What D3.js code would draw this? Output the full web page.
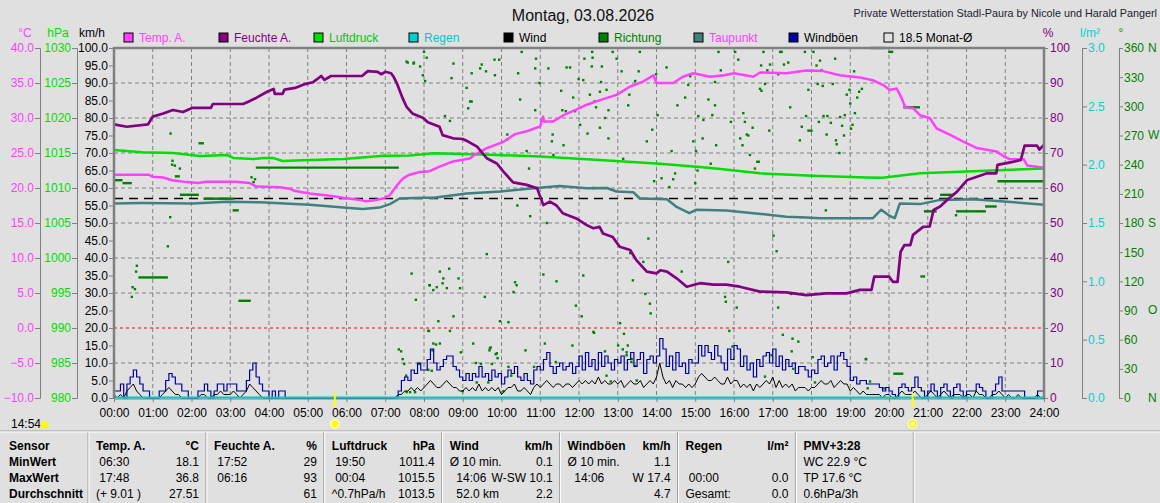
<!DOCTYPE html>
<html>
<head>
<meta charset="utf-8">
<script src="https://cdn.jsdelivr.net/npm/d3@7"></script>
<style>
  body { margin: 0; background: #e0e0e0; }
  svg { display: block; font-family: "Liberation Sans", Arial, sans-serif; }
  .pre { white-space: pre; }
</style>
</head>
<body>
<svg id="chart" width="1160" height="503"></svg>
<script>
// ---- data ----
const tempPoints = [[0,21.9],[0.9,21.9],[1.0,21.6],[1.27,21.5],[1.5,21.1],[1.8,20.9],[2.17,20.7],[2.38,20.9],[3.15,20.9],[3.5,20.7],[3.68,20.2],[4.28,20.1],[4.53,19.9],[4.65,19.6],[5.05,19.2],[5.57,18.9],[5.92,18.6],[6.35,18.3],[6.5,18.1],[6.68,18.2],[6.95,18.5],[7.12,19.0],[7.28,20.2],[7.38,20.9],[7.47,21.4],[7.63,21.9],[7.9,22.3],[8.15,22.4],[8.4,23.05],[8.75,23.8],[9.18,24.2],[9.3,24.7],[9.62,25.7],[10.05,26.6],[10.35,27.7],[10.65,28.1],[11.0,28.8],[11.07,30.2],[11.1,29.5],[11.33,29.5],[11.6,30.4],[11.93,31.2],[12.2,31.9],[12.62,32.7],[12.97,33.3],[13.32,34.5],[13.65,35.2],[13.92,36.1],[14.0,35.0],[14.43,35.0],[14.68,35.9],[14.95,36.4],[15.38,35.9],[15.75,36.1],[16.0,36.4],[16.5,35.9],[16.67,36.5],[17.35,36.4],[17.87,36.8],[18.3,36.7],[18.73,36.1],[19.25,35.8],[19.58,35.4],[19.85,34.7],[20.02,34.0],[20.2,34.2],[20.33,32.8],[20.42,31.5],[20.62,31.4],[20.8,30.4],[21.05,30.0],[21.23,28.5],[21.58,27.6],[21.93,26.6],[22.27,25.7],[22.78,25.2],[22.97,24.5],[23.13,24.1],[23.48,24.1],[23.57,23.2],[24.0,22.9]];

const humPoints = [[0,78.2],[0.33,77.5],[0.88,78.2],[1.0,80.4],[1.27,81.3],[1.52,82.3],[1.78,81.7],[2.03,82.9],[2.5,82.9],[2.55,84],[3.33,84],[3.45,84.6],[3.68,85.8],[3.95,87.5],[4.12,88.3],[4.15,86.9],[4.35,86.9],[4.4,88.1],[4.67,88.6],[4.9,89.6],[5.13,90.2],[5.35,92],[5.43,90.9],[5.6,92],[6.4,92],[6.55,93.4],[6.8,93.2],[6.9,92.5],[7.0,93.2],[7.15,92.8],[7.22,91.7],[7.3,89.9],[7.45,85.6],[7.55,83.2],[7.7,81.3],[7.97,80.1],[8.1,78.8],[8.4,77.5],[8.48,75.1],[8.75,74.2],[9.0,74.0],[9.15,73.2],[9.37,71.8],[9.62,68.5],[9.88,67],[10.05,64.7],[10.3,61.6],[10.65,60.9],[10.92,59.9],[11.08,55.1],[11.25,56.1],[11.42,55],[11.58,52.8],[11.93,51.3],[12.2,49.4],[12.37,48.5],[12.53,48.9],[12.62,47],[12.87,46],[13.05,43.2],[13.32,42.3],[13.48,39.4],[13.75,36.1],[14.0,35.6],[14.1,36.5],[14.27,36.1],[14.52,34.2],[14.78,31.8],[15.12,32.8],[15.47,32.4],[15.8,32.4],[16.15,31.8],[16.67,30.4],[17.35,30.2],[17.87,29.4],[18.38,29.9],[18.9,29.9],[19.25,30.9],[19.55,30.9],[19.62,34.7],[20.0,34.7],[20.1,33.2],[20.22,33.2],[20.3,41.8],[20.4,43.7],[20.55,43.7],[20.62,46.6],[20.88,48.9],[21.05,49],[21.15,53.7],[21.32,54.7],[21.5,56.6],[21.75,58.9],[22.02,62.3],[22.27,63.2],[22.53,64.2],[22.77,64.2],[22.8,66.6],[23.13,67.3],[23.4,68],[23.5,72.1],[23.82,72.1],[23.88,71],[24.0,72.3]];

const pressPoints = [[0,1015.43],[0.72,1015.1],[1.52,1015.0],[2.22,1014.57],[2.92,1014.7],[3.08,1014.3],[3.6,1014.14],[3.85,1014.3],[4.1,1014.3],[4.35,1013.86],[4.88,1013.95],[5.92,1014.14],[6.95,1014.6],[7.63,1014.65],[8.25,1014.95],[9.53,1014.8],[11.0,1014.5],[12.53,1014.0],[14.0,1013.5],[15.12,1013.0],[15.65,1012.7],[16.67,1012.1],[18.03,1011.76],[19.42,1011.5],[19.83,1011.45],[20.8,1012.1],[22.18,1012.4],[24.0,1012.8]];

const dewPoints = [[0,17.8],[0.72,17.85],[2.03,17.8],[2.92,18.05],[3.77,17.95],[5.05,17.6],[5.92,17.2],[6.42,17.0],[6.85,17.2],[7.12,17.7],[7.37,18.5],[7.97,18.6],[8.25,18.6],[9.1,19.2],[9.97,19.5],[10.82,19.95],[11.5,20.3],[12.2,19.95],[12.72,20.0],[12.97,19.5],[13.4,19.4],[13.57,18.5],[14.27,18.4],[14.52,17.3],[14.85,16.4],[15.03,16.9],[15.8,16.8],[16.5,16.4],[17.35,15.9],[17.87,15.8],[18.22,15.67],[19.08,15.67],[19.58,15.67],[19.8,16.9],[20.02,16.0],[20.15,15.7],[20.28,17.8],[20.8,17.7],[21.32,18.3],[22.18,18.4],[23.05,18.05],[24.0,17.6]];

// gusts and mean wind, km/h, one value every 5 minutes (00:00 .. 24:00)
const gustValues = [
  2,2,4,0,4,6,8,6,4,2,2,0,
  0,0,2,2,5,7,6,4,4,2,2,0,
  0,0,2,2,4,2,0,2,4,4,2,4,
  4,4,2,2,2,5,8,10,6,4,2,2,
  0,2,0,2,2,0,0,0,0,0,0,0,
  0,0,0,0,0,0,0,0,0,0,0,0,
  0,0,0,0,0,0,0,0,0,0,0,0,
  0,0,0,0,2,5,6,5,8,7,10,8,
  8,11,14,10,8,9,11,12,12,9,8,6,
  5,7,5,7,6,9,6,7,5,8,6,7,
  4,6,8,7,9,6,5,7,5,4,8,9,
  8,11,13,9,7,9,10,8,9,10,7,9,
  12,8,13,9,11,8,13,9,12,10,8,11,
  10,12,8,11,13,9,11,13,7,11,12,10,
  12,17,14,9,12,8,13,9,10,7,11,10,
  10,15,12,15,13,11,15,12,10,8,14,11,
  15,14,9,12,8,10,6,11,9,12,13,10,
  14,9,12,8,11,9,10,7,9,9,8,6,
  8,7,11,12,9,10,12,8,12,13,11,9,
  5,6,4,5,5,4,4,4,4,3,2,3,
  2,1,0,3,4,3,2,3,6,3,2,0,
  2,4,2,0,3,4,2,0,3,4,2,0,
  2,2,2,4,3,2,0,0,2,4,6,2,
  2,2,2,2,2,2,0,0,0,0,2,2,
  0];
const windValues = [
  1,0,1,0,2,3,4,2,1,0,0,0,
  0,0,0,1,2,3,2,1,1,0,0,0,
  0,0,0,1,1,0,0,1,1,2,1,1,
  1,2,1,0,1,2,4,3,2,1,0,0,
  0,0,0,0,0,0,0,0,0,0,0,0,
  0,0,0,0,0,0,0,0,0,0,0,0,
  0,0,0,0,0,0,0,0,0,0,0,0,
  0,0,0,0,1,1,2,2,3,2,3,2,
  3,4,5,4,3,3,4,5,4,3,3,2,
  2,3,2,3,2,4,2,3,2,3,2,3,
  1,2,3,3,4,2,2,3,2,1,3,4,
  3,4,5,4,3,4,4,3,4,4,3,4,
  5,4,5,4,5,4,6,4,5,4,4,5,
  4,5,3,4,5,4,4,5,3,4,5,4,
  6,10,6,4,5,3,5,4,4,3,4,3,
  4,6,7,6,5,5,6,5,4,4,6,4,
  5,5,3,4,3,4,2,4,3,4,5,4,
  6,3,5,3,4,3,4,2,3,3,3,2,
  3,3,4,5,4,4,5,3,4,5,4,4,
  2,3,2,1,2,1,1,1,1,1,0,1,
  1,0,0,1,2,1,1,1,2,1,0,0,
  1,2,1,0,1,2,1,0,1,1,1,0,
  1,1,0,2,1,1,0,0,1,1,2,1,
  0,1,0,0,1,0,0,0,0,0,1,0,
  0];
const rainPoints = [[0,0],[24,0]];

// wind direction samples [hour, degrees] and steady stretches [from, to, degrees]
const dirDots = [[1.46,272],[1.51,244],[1.50,240],[1.57,239],[1.70,236],[1.45,186],[1.39,156],[0.59,136],[0.57,130],[0.48,114],[0.54,112],[0.46,104],[3.55,227],[3.64,225],[3.60,222],
  [7.58,345],[7.74,345],[7.90,341],[7.97,332],[8.03,326],[8.0,356],[8.07,350],[7.68,128],[7.79,101],[8.14,116],[8.13,69],[7.35,50],[7.41,48],[7.45,40],[7.49,35],[7.54,23],[7.55,6],[7.64,6],[7.77,6],[7.88,35],
  [7.55,346],[7.73,344],[8.71,329],[8.76,344],[9.10,319],[9.23,334],[9.45,339],[9.49,343],[9.60,336],[9.82,348],[9.94,348],[9.83,332],[9.19,305],[9.14,298],[9.23,305],[8.54,290],[8.67,285],
  [8.15,116],[8.24,111],[8.33,114],[8.48,118],[8.50,123],[8.59,113],[8.41,130],[8.65,133],[8.89,123],[8.93,113],[8.37,79],[8.11,69],[8.67,69],[8.76,84],[8.41,56],[8.31,55],[8.24,56],[8.22,49],[8.11,29],[8.20,28],[8.95,47],[9.00,7],
  [9.62,148],[9.57,104],[9.70,51],[9.88,46],[9.96,79],[10.18,78],[10.35,119],[10.39,116],[10.31,109],[10.15,271],[10.15,266],[10.41,198],[10.52,356],[10.48,307],[10.43,334],[10.65,254],[10.71,236],[10.74,187],[10.87,296],[10.89,349],[10.87,339],[10.98,324],
  [9.27,56],[9.34,36],[9.47,35],[9.36,16],[9.69,49],[9.72,52],[9.85,45],[9.90,41],[9.75,35],[9.66,16],[10.05,7],[10.18,32],[10.25,23],[10.62,49],[10.84,32],[11.12,56],[11.40,37],[11.83,54],
  [11.08,127],[11.17,180],[11.21,339],[11.32,271],[11.30,264],[11.34,250],[11.42,120],[11.54,316],[11.57,296],[11.60,260],[11.66,295],[11.68,340],[11.77,340],[11.85,309],[11.90,295],[11.92,95],[11.99,328],
  [12.03,281],[12.07,84],[12.11,126],[12.14,349],[12.11,327],[12.22,272],[12.28,312],[12.34,356],[12.35,350],[12.33,341],[12.37,216],[12.37,68],[12.40,305],[12.44,299],[12.54,315],[12.54,278],[12.57,325],[12.59,341],[12.67,288],[12.71,317],[12.76,296],[12.76,267],[12.87,356],[12.97,349],
  [12.39,67],[13.16,66],[13.01,54],[13.26,54],[12.67,48],[13.23,47],[13.36,40],[13.35,37],[13.45,33],[13.49,18],[12.71,23],[12.82,17],
  [13.06,77],[13.13,50],[13.10,336],[13.14,246],[13.23,44],[13.27,301],[13.30,312],[13.32,149],[13.39,121],[13.45,326],[13.54,336],[13.57,356],[13.66,140],[13.71,107],[13.75,264],[13.79,164],[13.83,97],[13.85,87],[13.89,276],[13.94,223],[13.99,333],
  [14.03,291],[14.13,226],[14.26,340],[14.33,217],[14.39,254],[14.43,225],[14.48,231],[14.54,301],[14.65,130],[14.74,309],[14.82,322],[14.87,331],[14.95,264],[15.00,221],[15.02,254],[15.08,290],[15.06,234],[15.21,286],[15.19,267],[15.34,307],[15.40,241],[15.44,291],[15.51,301],[15.54,260],[15.51,325],[15.60,356],[15.66,337],[15.77,104],[15.79,99],
  [16.03,356],[16.11,348],[16.24,293],[16.28,284],[15.92,284],[16.16,267],[16.22,260],[16.33,271],[16.41,250],[16.48,278],[16.37,270],[16.67,318],[16.71,316],[16.80,323],[16.70,342],[16.76,356],[16.86,337],[16.93,343],[17.14,333],[17.19,356],[17.23,356],[17.29,343],[17.40,345],[17.45,299],[16.91,275],[16.54,236],
  [17.02,167],[17.10,151],[17.14,93],[17.26,65],[17.51,61],[17.66,58],[17.49,48],[15.85,140],[16.07,93],[17.47,107],[18.03,42],[19.41,40],[15.88,69],[15.96,53],[16.97,44],[17.53,30],[16.80,22],[18.09,16],
  [17.83,356],[17.92,317],[17.86,290],[17.70,265],[17.75,279],[18.05,356],[18.22,347],[18.13,342],[18.26,337],[18.16,323],[18.29,321],[18.31,290],[18.41,290],[18.19,284],[18.39,271],[18.50,283],[18.61,349],[18.55,323],[18.63,265],[18.65,261],[18.72,252],[18.74,289],[18.79,280],[18.84,270],[18.86,291],[18.91,312],[18.98,317],[19.00,303],[19.02,277],[19.06,281],[19.12,293],[19.18,309],[19.23,315],[19.30,318],[19.10,336],[18.37,193],
  [19.40,40],[19.51,17],[19.45,10],[19.88,10],[20.84,125],[20.90,125],[21.73,188]];
const dirDashes = [[0.0,0.22,224],[0.22,0.46,221],[0.63,1.39,124],[1.57,1.70,228],[1.70,2.19,209],[2.18,2.32,262],[2.31,3.10,205],[3.06,3.22,193],[3.21,3.53,100],[3.66,7.35,237],[16.57,16.67,243],[17.89,18.03,275],[19.51,19.90,360],[19.98,20.11,356],[20.11,20.37,25],[20.37,20.80,299],[20.90,21.23,192],[21.32,21.66,209],[21.73,22.50,192],[22.48,22.78,197],[22.80,23.98,223]];

const monthAvgTemp = 18.5;
const sunrise = 5.70, sunset = 20.61;

// ticks
const hourTicks = [0,1,2,3,4,5,6,7,8,9,10,11,12,13,14,15,16,17,18,19,20,21,22,23,24];
const tempTicks = [-10,-5,0,5,10,15,20,25,30,35,40];
const hpaTicks = [980,985,990,995,1000,1005,1010,1015,1020,1025,1030];
const kmhTicks = [0,5,10,15,20,25,30,35,40,45,50,55,60,65,70,75,80,85,90,95,100];
const pctTicks = [0,10,20,30,40,50,60,70,80,90,100];
const rainTicks = [0,0.5,1,1.5,2,2.5,3];
const degTicks = [0,30,60,90,120,150,180,210,240,270,300,330,360];
const compassDeg = [0,90,180,270,360];
const compassLbl = ["N","O","S","W","N"];

// legend
const legendNames = ["Temp. A.","Feuchte A.","Luftdruck","Regen","Wind","Richtung","Taupunkt","Windböen","18.5 Monat-Ø"];
const legendBox = ["#ff40ff","#800080","#00dd00","#00d0d0","#000000","#008000","#408080","#0000a0","none"];
const legendText = ["#ff40ff","#800080","#00c800","#00c8c8","#000000","#008000","#ff40ff","#000000","#000000"];

// table
const sensorRows = ["Sensor","MinWert","MaxWert","Durchschnitt"];
const tableTitles = ["Temp. A.","Feuchte A.","Luftdruck","Wind","Windböen","Regen","PMV+3:28"];
const tableUnits = ["°C","%","hPa","km/h","km/h","l/m²",""];
const tableLeft = [
  [" 06:30"," 17:48","(+ 9.01 )"],
  [" 17:52"," 06:16",""],
  [" 19:50"," 00:04","^0.7hPa/h"],
  ["Ø 10 min.","  14:06","  52.0 km"],
  ["Ø 10 min.","  14:06",""],
  [""," 00:00","Gesamt:"],
  ["WC 22.9 °C","TP 17.6 °C","0.6hPa/3h"]];
const tableRight = [
  ["18.1","36.8","27.51"],
  ["29","93","61"],
  ["1011.4","1015.5","1013.5"],
  ["0.1","W-SW 10.1","2.2"],
  ["1.1","W 17.4","4.7"],
  ["","0.0","0.0"],
  ["","",""]];

// ---- drawing ----
const svg = d3.select("#chart");
const pL = 114, pR = 1044, pT = 48, pB = 398;
const gridColor = "#808080";

const x = d3.scaleLinear().domain([0, 24]).range([pL, pR]);
const yKmh = d3.scaleLinear().domain([0, 100]).range([pB, pT]);
const yTemp = d3.scaleLinear().domain([-10, 40]).range([pB, pT]);
const yHpa = d3.scaleLinear().domain([980, 1030]).range([pB, pT]);
const yPct = d3.scaleLinear().domain([0, 100]).range([pB, pT]);
const yRain = d3.scaleLinear().domain([0, 3]).range([pB, pT]);
const yDeg = d3.scaleLinear().domain([0, 360]).range([pB, pT]);

svg.append("rect").attr("width", 1160).attr("height", 503).attr("fill", "#e0e0e0");

// titles
svg.append("text").attr("x", 583).attr("y", 21).attr("text-anchor", "middle")
  .style("font-size", "16px").attr("fill", "#101010").text("Montag, 03.08.2026");
svg.append("text").attr("x", 1157).attr("y", 17).attr("text-anchor", "end")
  .style("font-size", "10.8px").attr("fill", "#202030").text("Private Wetterstation Stadl-Paura by Nicole und Harald Pangerl");

// grid
const grid = svg.append("g").attr("stroke", gridColor).attr("stroke-dasharray", "4,3");
grid.selectAll("line.v").data(hourTicks.slice(1, -1)).enter().append("line")
  .attr("x1", d => x(d)).attr("x2", d => x(d)).attr("y1", pT).attr("y2", pB);
grid.selectAll("line.h").data([10,30,40,50,60,70,80,90]).enter().append("line")
  .attr("x1", pL).attr("x2", pR).attr("y1", d => yKmh(d)).attr("y2", d => yKmh(d));
svg.append("line").attr("x1", pL).attr("x2", pR).attr("y1", yTemp(0)).attr("y2", yTemp(0))
  .attr("stroke", "#ff0000").attr("stroke-dasharray", "3,3");
svg.append("line").attr("x1", pL).attr("x2", pR).attr("y1", yTemp(monthAvgTemp)).attr("y2", yTemp(monthAvgTemp))
  .attr("stroke", "#000").attr("stroke-width", 1.3).attr("stroke-dasharray", "9,6");

// direction
svg.append("g").selectAll("rect").data(dirDots).enter().append("rect")
  .attr("x", d => x(d[0]) - 1.2).attr("y", d => yDeg(d[1]) - 1.2)
  .attr("width", 2.4).attr("height", 2.4).attr("fill", "#008000");
svg.append("g").selectAll("line").data(dirDashes).enter().append("line")
  .attr("x1", d => x(d[0])).attr("x2", d => x(d[1]))
  .attr("y1", d => yDeg(d[2])).attr("y2", d => yDeg(d[2]))
  .attr("stroke", "#008000").attr("stroke-width", 2.4);

// wind + gusts
const step5 = (v, i) => [i * 5 / 60, v];
svg.append("path").datum(gustValues.map(step5))
  .attr("fill", "none").attr("stroke", "#0000a0").attr("stroke-width", 1.2)
  .attr("d", d3.line().x(d => x(d[0])).y(d => yKmh(d[1])).curve(d3.curveStepAfter));
svg.append("path").datum(windValues.map(step5))
  .attr("fill", "none").attr("stroke", "#000").attr("stroke-width", 1)
  .attr("d", d3.line().x(d => x(d[0])).y(d => yKmh(d[1])));

// bottom line and rain
svg.append("line").attr("x1", pL).attr("x2", pR).attr("y1", pB + 1).attr("y2", pB + 1).attr("stroke", gridColor);
svg.append("path").datum(rainPoints).attr("fill", "none").attr("stroke", "#00c8c8").attr("stroke-width", 2)
  .attr("d", d3.line().x(d => x(d[0])).y(d => yRain(d[1]) - 0.5));

// main lines
function drawLine(points, scale, color, width) {
  svg.append("path").datum(points).attr("fill", "none").attr("stroke", color)
    .attr("stroke-width", width).attr("stroke-linejoin", "round")
    .attr("d", d3.line().x(d => x(d[0])).y(d => scale(d[1])));
}
drawLine(pressPoints, yHpa, "#00dd00", 2.5);
drawLine(dewPoints, yTemp, "#408080", 2.5);
drawLine(tempPoints, yTemp, "#ff40ff", 2.5);
drawLine(humPoints, yPct, "#800080", 2.7);

// plot frame
svg.append("path").attr("d", `M${pL},${pB}V${pT}H${pR}V${pB}`)
  .attr("fill", "none").attr("stroke", gridColor).attr("stroke-width", 2.5);

// axes
function styleAxis(g, color, hideDomain) {
  g.select(".domain").attr("stroke", hideDomain ? "none" : gridColor);
  g.selectAll(".tick line").attr("stroke", gridColor);
  g.selectAll(".tick text").attr("fill", color).style("font-size", "12px")
    .style("font-family", "'Liberation Sans', Arial, sans-serif");
}
const fmt1 = d3.format(".1f");
svg.append("g").attr("transform", "translate(40,0)")
  .call(d3.axisLeft(yTemp).tickValues(tempTicks).tickFormat(fmt1).tickSize(5).tickPadding(1))
  .call(g => styleAxis(g, "#ff40ff"));
svg.append("g").attr("transform", "translate(77,0)")
  .call(d3.axisLeft(yHpa).tickValues(hpaTicks).tickFormat(d3.format("d")).tickSize(5).tickPadding(1))
  .call(g => styleAxis(g, "#00dd00"));
svg.append("g").attr("transform", `translate(${pL},0)`)
  .call(d3.axisLeft(yKmh).tickValues(kmhTicks).tickFormat(fmt1).tickSize(5).tickPadding(1))
  .call(g => styleAxis(g, "#000", true));
svg.append("g").attr("transform", `translate(${pR},0)`)
  .call(d3.axisRight(yPct).tickValues(pctTicks).tickFormat(d3.format("d")).tickSize(4).tickPadding(2))
  .call(g => styleAxis(g, "#800080", true));
svg.append("g").attr("transform", "translate(1082,0)")
  .call(d3.axisRight(yRain).tickValues(rainTicks).tickFormat(fmt1).tickSize(5).tickPadding(1))
  .call(g => styleAxis(g, "#00d0d0"));
svg.append("g").attr("transform", "translate(1119,0)")
  .call(d3.axisRight(yDeg).tickValues(degTicks).tickFormat(d3.format("d")).tickSize(4).tickPadding(1))
  .call(g => styleAxis(g, "#008000"));
svg.append("g").selectAll("text").data(compassDeg).enter().append("text")
  .attr("x", 1148).attr("y", d => yDeg(d)).attr("dy", "0.32em")
  .style("font-size", "12px").attr("fill", "#008000").text((d, i) => compassLbl[i]);
svg.append("g").attr("transform", `translate(0,${pB})`)
  .call(d3.axisBottom(x).tickValues(hourTicks).tickFormat(h => String(h).padStart(2, "0") + ":00").tickSize(4).tickPadding(6))
  .call(g => styleAxis(g, "#000", true));

// unit headers
const units = [["°C", 25, "#ff40ff"], ["hPa", 58, "#00dd00"], ["km/h", 92, "#000"],
  ["%", 1048, "#800080"], ["l/m²", 1090, "#00d0d0"], ["°", 1121, "#008000"]];
svg.append("g").selectAll("text").data(units).enter().append("text")
  .attr("x", d => d[1]).attr("y", 37).attr("text-anchor", "middle")
  .style("font-size", "12px").attr("fill", d => d[2]).text(d => d[0]);

// legend
const leg = svg.append("g").selectAll("g").data(legendNames).enter().append("g")
  .attr("transform", (d, i) => `translate(${124 + i * 95},33)`);
leg.append("rect").attr("width", 9).attr("height", 9)
  .attr("fill", (d, i) => legendBox[i]).attr("stroke", "#000");
leg.append("text").attr("x", 15).attr("y", 9).style("font-size", "12px")
  .attr("fill", (d, i) => legendText[i]).text(d => d);

// sunrise / sunset markers
[sunrise, sunset].forEach((t, i) => {
  svg.append("line").attr("x1", x(t)).attr("x2", x(t)).attr("y1", 393).attr("y2", 407)
    .attr("stroke", "#ffff00").attr("stroke-width", 2);
  svg.append("circle").attr("cx", x(t)).attr("cy", 424).attr("r", 5).attr("fill", "#ffffa0");
  svg.append("circle").attr("cx", x(t)).attr("cy", 424).attr("r", 3.2)
    .attr("fill", i === 0 ? "#ffff00" : "#ffffa0").attr("stroke", "#f0f000").attr("stroke-width", i === 0 ? 0 : 1.2);
});
svg.append("text").attr("x", 11).attr("y", 428).style("font-size", "12px").attr("fill", "#000").text("14:54");
svg.append("path").attr("d", "M40,427 Q41,421 44.5,421 Q48,421 49,427 Z").attr("fill", "#ffff00");

// summary table
const tableTop = 431;
svg.append("line").attr("x1", 0).attr("x2", 1160).attr("y1", tableTop).attr("y2", tableTop).attr("stroke", "#a0a0a0");
svg.append("line").attr("x1", 0).attr("x2", 1160).attr("y1", tableTop + 1).attr("y2", tableTop + 1).attr("stroke", "#ffffff");
const colX = d3.range(8).map(i => 88 + i * 117.9);
colX.forEach(cx => {
  svg.append("line").attr("x1", cx).attr("x2", cx).attr("y1", tableTop + 1).attr("y2", 503).attr("stroke", "#a0a0a0");
  svg.append("line").attr("x1", cx + 1).attr("x2", cx + 1).attr("y1", tableTop + 1).attr("y2", 503).attr("stroke", "#ffffff");
});
const rowY = [450, 466, 482, 498];
const tbl = svg.append("g").style("font-size", "12px").attr("fill", "#000");
sensorRows.forEach((s, r) => {
  tbl.append("text").attr("x", 9).attr("y", rowY[r]).style("font-weight", "bold").text(s);
});
tableTitles.forEach((t, c) => {
  const cx = colX[c];
  tbl.append("text").attr("x", cx + 8).attr("y", rowY[0]).style("font-weight", "bold").text(t);
  tbl.append("text").attr("x", cx + 111).attr("y", rowY[0]).attr("text-anchor", "end")
    .style("font-weight", "bold").text(tableUnits[c]);
  tableLeft[c].forEach((v, r) => {
    tbl.append("text").attr("class", "pre").attr("x", cx + 8).attr("y", rowY[r + 1]).text(v);
  });
  tableRight[c].forEach((v, r) => {
    tbl.append("text").attr("x", cx + 111).attr("y", rowY[r + 1]).attr("text-anchor", "end").text(v);
  });
});
</script>
</body>
</html>
